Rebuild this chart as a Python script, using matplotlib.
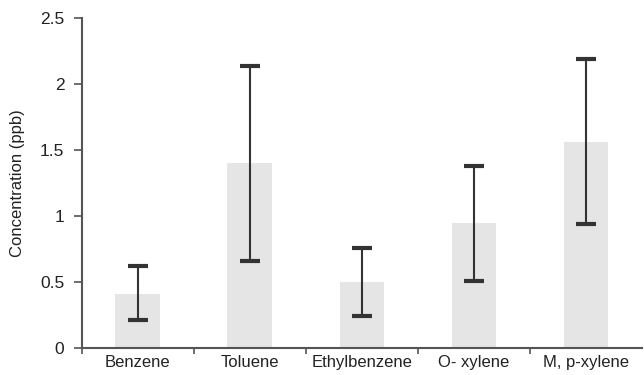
import matplotlib.pyplot as plt
import numpy as np
from matplotlib.ticker import FixedLocator, FuncFormatter

plt.rcParams['font.family'] = ['Liberation Sans', 'DejaVu Sans']

compounds = ["Benzene", "Toluene", "Ethylbenzene", "O- xylene", "M, p-xylene"]
means = [0.41, 1.40, 0.50, 0.95, 1.56]
err_low = [0.21, 0.66, 0.24, 0.51, 0.94]
err_high = [0.62, 2.14, 0.76, 1.38, 2.19]

axis_color = "#555555"
bar_color = "#e5e5e5"
err_color = "#333333"

fig = plt.figure(figsize=(6.44, 3.75), dpi=100)
ax = fig.add_axes([0.127, 0.072, 0.870, 0.880])

x = np.arange(len(compounds))
means_arr = np.array(means)
yerr = [means_arr - np.array(err_low), np.array(err_high) - means_arr]

ax.bar(x, means, width=0.4, color=bar_color, zorder=1)
ax.errorbar(x, means, yerr=yerr, fmt="none", ecolor=err_color, elinewidth=1.5,
            capsize=7, capthick=3, zorder=2)

ax.set_xlim(-0.5, len(compounds) - 0.5)
ax.set_ylim(0, 2.5)
ax.set_yticks([0, 0.5, 1, 1.5, 2, 2.5])
ax.yaxis.set_major_formatter(FuncFormatter(lambda v, p: f"{v:g}"))

# boundaries get the tick marks, labels sit at the centres
ax.xaxis.set_major_locator(FixedLocator(np.arange(-0.5, len(compounds) - 0.5, 1)))
ax.xaxis.set_major_formatter(FuncFormatter(lambda v, p: ""))
ax.xaxis.set_minor_locator(FixedLocator(x))
ax.set_xticklabels(compounds, minor=True)
ax.tick_params(axis="x", which="minor", length=0, pad=5, labelsize=12, labelcolor="#222222")
ax.tick_params(axis="x", which="major", length=4, width=1.2, color=axis_color)
ax.tick_params(axis="y", length=5.5, width=1.2, color=axis_color, labelsize=12.5, labelcolor="#222222", pad=7)

for side in ["top", "right"]:
    ax.spines[side].set_visible(False)
for side in ["left", "bottom"]:
    ax.spines[side].set_color(axis_color)
    ax.spines[side].set_linewidth(1.5)

ax.set_ylabel("Concentration (ppb)", fontsize=12, color="#222222", labelpad=11)

fig.savefig("out.png", dpi=100)
